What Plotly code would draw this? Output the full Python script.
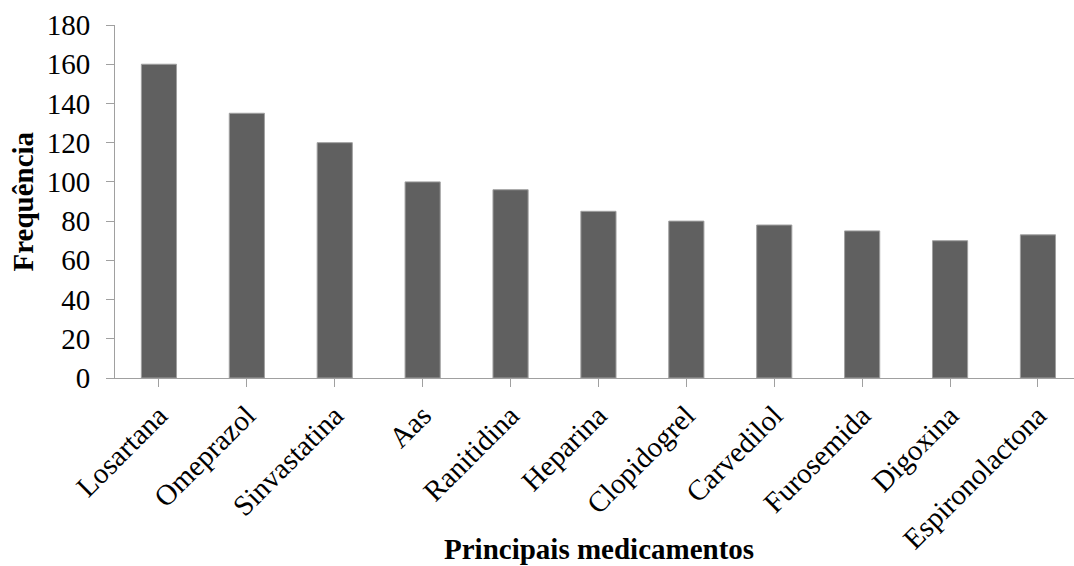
import plotly.graph_objects as go

categories = ["Losartana", "Omeprazol", "Sinvastatina", "Aas", "Ranitidina",
              "Heparina", "Clopidogrel", "Carvedilol", "Furosemida", "Digoxina",
              "Espironolactona"]
values = [160, 135, 120, 100, 96, 85, 80, 78, 75, 70, 73]
y_ticks = [0, 20, 40, 60, 80, 100, 120, 140, 160, 180]

W, H = 1074, 566
L, R, T, B = 115, 0, 25, 188
pw = W - L - R
ph = H - T - B
cat_w = 87.9
x_max = -0.5 + pw / cat_w

font_family = "Liberation Serif"

fig = go.Figure(go.Bar(
    x=list(range(len(categories))),
    y=values,
    marker=dict(color="#606060", line=dict(color="#a0a0a0", width=1)),
    width=0.4,
))

fig.update_layout(
    width=W, height=H,
    margin=dict(l=L, r=R, t=T, b=B, autoexpand=False),
    paper_bgcolor="white", plot_bgcolor="white",
    showlegend=False,
    font=dict(family=font_family, size=29, color="black"),
    xaxis=dict(
        range=[-0.5, x_max],
        tickmode="array",
        tickvals=list(range(len(categories))),
        ticktext=categories,
        tickangle=-45,
        tickson="boundaries",
        ticks="outside", ticklen=8, tickcolor="#a0a0a0", tickwidth=1,
        showline=True, linecolor="#a0a0a0", linewidth=1,
        showgrid=False, zeroline=False,
        tickfont=dict(family=font_family, size=29, color="black"),
        automargin=False,
    ),
    yaxis=dict(
        range=[0, 180],
        tickmode="array",
        tickvals=y_ticks,
        ticks="outside", ticklen=8, tickcolor="#a0a0a0", tickwidth=1,
        showline=True, linecolor="#a0a0a0", linewidth=1,
        showgrid=False, zeroline=False,
        tickfont=dict(family=font_family, size=29, color="black"),
        ticklabelstandoff=10,
        automargin=False,
    ),
    annotations=[
        dict(text="<b>Frequência</b>", textangle=-90,
             xref="paper", yref="paper",
             x=(22 - L) / pw, y=0.5, xanchor="center", yanchor="middle",
             showarrow=False, font=dict(family=font_family, size=29, color="black")),
        dict(text="<b>Principais medicamentos</b>",
             xref="paper", yref="paper",
             x=(599 - L) / pw, y=(T + ph - 549) / ph, xanchor="center", yanchor="middle",
             showarrow=False, font=dict(family=font_family, size=29, color="black")),
    ],
)

fig.write_html("out.html", config={"displayModeBar": False},
               post_script="document.body.style.margin='0';document.body.style.overflow='hidden';")
